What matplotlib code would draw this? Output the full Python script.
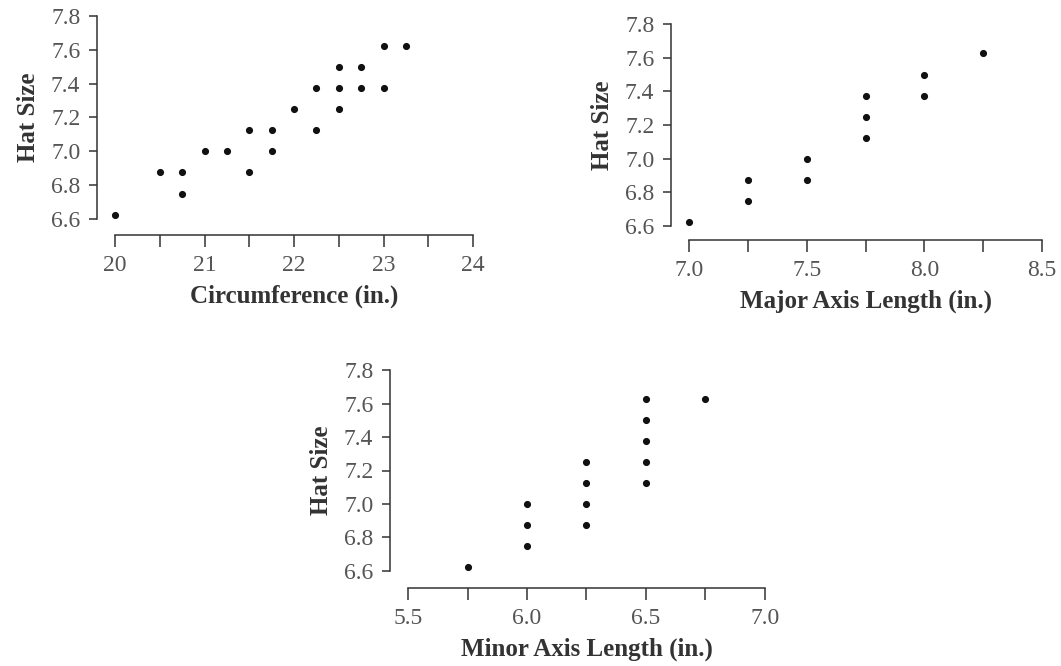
import matplotlib
matplotlib.use("Agg")
import matplotlib.pyplot as plt
from matplotlib.ticker import MultipleLocator, FormatStrFormatter

# Circumference vs hat size
circ = [20, 20.5, 20.75, 20.75, 21, 21.25, 21.5, 21.5, 21.75, 21.75, 22,
        22.25, 22.25, 22.5, 22.5, 22.5, 22.75, 22.75, 23, 23, 23.25]
circ_hat = [6.625, 6.875, 6.875, 6.75, 7.0, 7.0, 7.125, 6.875, 7.125, 7.0, 7.25,
            7.375, 7.125, 7.5, 7.375, 7.25, 7.5, 7.375, 7.625, 7.375, 7.625]

# Major axis length vs hat size
major = [7.0, 7.25, 7.25, 7.5, 7.5, 7.75, 7.75, 7.75, 8.0, 8.0, 8.25]
major_hat = [6.625, 6.875, 6.75, 7.0, 6.875, 7.375, 7.25, 7.125, 7.5, 7.375, 7.625]

# Minor axis length vs hat size
minor = [5.75, 6.0, 6.0, 6.0, 6.25, 6.25, 6.25, 6.25, 6.5, 6.5, 6.5, 6.5, 6.5, 6.75]
minor_hat = [6.625, 7.0, 6.875, 6.75, 7.25, 7.125, 7.0, 6.875,
             7.625, 7.5, 7.375, 7.25, 7.125, 7.625]

W, H = 1061, 666
plt.rcParams['font.family'] = ['Liberation Serif', 'DejaVu Serif']

fig = plt.figure(figsize=(W / 100, H / 100), dpi=100)


def make_axes(left, right, top, bottom):
    # pixel box -> figure fraction
    return fig.add_axes([left / W, 1 - bottom / H, (right - left) / W, (bottom - top) / H])


def style(ax, x, y, xlim, xmajor, xminor, xfmt, xlabel, xoff, yoff):
    ax.scatter(x, y, s=17, color='#111111', zorder=3, clip_on=False)
    ax.set_xlim(*xlim)
    ax.set_ylim(6.6, 7.8)
    ax.xaxis.set_major_locator(MultipleLocator(xmajor))
    ax.xaxis.set_minor_locator(MultipleLocator(xminor))
    ax.xaxis.set_major_formatter(FormatStrFormatter(xfmt))
    ax.yaxis.set_major_locator(MultipleLocator(0.2))
    ax.yaxis.set_major_formatter(FormatStrFormatter('%.1f'))
    for s in ['top', 'right']:
        ax.spines[s].set_visible(False)
    ax.spines['left'].set_position(('outward', yoff))
    ax.spines['bottom'].set_position(('outward', xoff))
    ax.spines['left'].set_bounds(6.6, 7.8)
    ax.spines['bottom'].set_bounds(*xlim)
    for s in ['left', 'bottom']:
        ax.spines[s].set_linewidth(1.1)
        ax.spines[s].set_color('#333333')
    ax.tick_params(axis='x', which='both', length=8.5, width=1.1, color='#333333',
                   labelsize=17, labelcolor='#555555', pad=6)
    ax.tick_params(axis='y', which='major', length=6, width=1.1, color='#333333',
                   labelsize=17, labelcolor='#555555', pad=6)
    ax.set_xlabel(xlabel, fontsize=18, fontweight='bold', color='#333333', labelpad=6)
    ax.set_ylabel('Hat Size', fontsize=18, fontweight='bold', color='#333333', labelpad=8)
    ax.patch.set_visible(False)


ax1 = make_axes(115, 473, 16, 219)
style(ax1, circ, circ_hat, (20, 24), 1, 0.5, '%d', 'Circumference (in.)', 11.5, 13)

ax2 = make_axes(689, 1042, 24, 226)
style(ax2, major, major_hat, (7.0, 8.5), 0.5, 0.25, '%.1f', 'Major Axis Length (in.)', 10, 13)

ax3 = make_axes(408, 765, 370, 571)
style(ax3, minor, minor_hat, (5.5, 7.0), 0.5, 0.25, '%.1f', 'Minor Axis Length (in.)', 12, 13)

fig.savefig('out.png', dpi=100, facecolor='white')
